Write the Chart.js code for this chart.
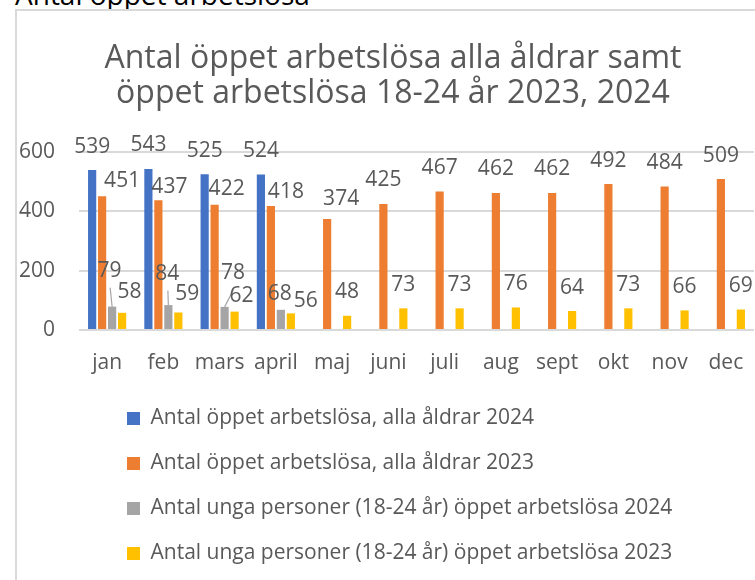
<!DOCTYPE html>
<html lang="sv">
<head>
<meta charset="utf-8">
<script src="https://cdn.jsdelivr.net/npm/chart.js@4"></script>
<style>
  html, body { margin:0; padding:0; width:755px; height:580px; overflow:hidden; background:#fff; }
  #pageHeading { position:absolute; left:15px; top:-20px; font-family:'Open Sans', sans-serif; font-size:28px; line-height:28px; color:#000; white-space:nowrap; }
  #frame { position:absolute; left:15px; top:9px; width:760px; height:600px; border-left:2px solid #d9d9d9; border-top:2px solid #d9d9d9; background:#fff; }
  #chart { position:absolute; left:0; top:0; }
</style>
</head>
<body>
<div id="pageHeading">Antal öppet arbetslösa</div>
<div id="frame"><canvas id="chart" width="752" height="590"></canvas></div>
<script>
// ---- data ----
const months = ['jan','feb','mars','april','maj','juni','juli','aug','sept','okt','nov','dec'];
const allAges2024 = [539, 543, 525, 524, null, null, null, null, null, null, null, null];
const allAges2023 = [451, 437, 422, 418, 374, 425, 467, 462, 462, 492, 484, 509];
const young2024   = [79, 84, 78, 68, null, null, null, null, null, null, null, null];
const young2023   = [58, 59, 62, 56, 48, 73, 73, 76, 64, 73, 66, 69];
const yTickValues = [0, 200, 400, 600];
const seriesNames = [
  'Antal öppet arbetslösa, alla åldrar 2024',
  'Antal öppet arbetslösa, alla åldrar 2023',
  'Antal unga personer (18-24 år) öppet arbetslösa 2024',
  'Antal unga personer (18-24 år) öppet arbetslösa 2023'
];
const chartTitle = ['Antal öppet arbetslösa alla åldrar samt', 'öppet arbetslösa 18-24 år 2023, 2024'];

// ---- styling ----
const FONT = "'Open Sans', sans-serif";
const TEXT = '#595959';
const seriesColors = ['#4472C4', '#ED7D31', '#A5A5A5', '#FFC000'];
// manual label nudges [dx, dy] per series/point (as in the original, where labels were dragged)
const labelNudges = [
  {},
  {0:[20,8.5], 1:[11,10], 2:[12,8], 3:[15,9.5], 4:[14,3]},
  {0:[-2.5,-12], 1:[-1,-7.5], 2:[8.5,-10.5], 3:[-1,7.5]},
  {0:[7.5,3], 1:[9,5], 2:[7,7.5], 3:[15,11]}
];
const leaderLines = {2: [0, 1, 2]};

const dataLabelPlugin = {
  id: 'dataLabels',
  afterDatasetsDraw(chart) {
    const ctx = chart.ctx;
    ctx.save();
    ctx.font = '21px ' + FONT;
    ctx.fillStyle = TEXT;
    ctx.textAlign = 'center';
    ctx.textBaseline = 'alphabetic';
    chart.data.datasets.forEach((ds, di) => {
      const meta = chart.getDatasetMeta(di);
      meta.data.forEach((el, i) => {
        const v = ds.data[i];
        if (v === null || v === undefined) return;
        const n = (labelNudges[di] && labelNudges[di][i]) || [0, 0];
        const cx = el.x + n[0];
        const cy = el.y - 25 + n[1];
        if (leaderLines[di] && leaderLines[di].includes(i)) {
          ctx.save();
          ctx.strokeStyle = '#a6a6a6';
          ctx.lineWidth = 1.2;
          ctx.beginPath();
          ctx.moveTo(cx + 0.5, cy + 18);
          ctx.lineTo(el.x, el.y);
          ctx.stroke();
          ctx.restore();
        }
        ctx.fillText(String(v), cx, cy + 7.5);
      });
    });
    ctx.restore();
  }
};

const legendPlacement = {
  id: 'legendPlacement',
  afterUpdate(chart) {
    const lg = chart.legend;
    if (lg) {
      lg.left = chart.chartArea.left + 24;
      lg.top = chart.chartArea.bottom + 54;
      lg.bottom = lg.top + lg.height;
    }
    // let the y tick labels extend left of the (narrow) axis box without being clipped
    if (chart.scales.y) chart.scales.y.left = 0;
  }
};

const datasets = [allAges2024, allAges2023, young2024, young2023].map((d, i) => ({
  label: seriesNames[i],
  data: d,
  backgroundColor: seriesColors[i],
  borderWidth: 0,
  categoryPercentage: 0.71,
  barPercentage: 0.82
}));

new Chart(document.getElementById('chart'), {
  type: 'bar',
  data: { labels: months, datasets },
  plugins: [dataLabelPlugin, legendPlacement],
  options: {
    responsive: false,
    animation: false,
    layout: { padding: { left: 15, right: 15, top: 0, bottom: 15.8 } },
    plugins: {
      tooltip: { enabled: false },
      title: {
        display: true,
        text: chartTitle,
        color: TEXT,
        font: { family: FONT, size: 32, weight: 'normal', lineHeight: 1.094 },
        padding: { top: 30.5, bottom: 40.5 }
      },
      legend: {
        display: true,
        position: 'bottom',
        align: 'start',
        labels: {
          boxWidth: 13,
          boxHeight: 13,
          padding: 24,
          color: TEXT,
          font: { family: FONT, size: 21 }
        }
      }
    },
    scales: {
      x: {
        grid: { display: false, drawTicks: false },
        border: { display: false },
        ticks: { color: TEXT, font: { family: FONT, size: 21 }, padding: 20, maxRotation: 0, autoSkip: false }
      },
      y: {
        min: 0,
        max: 600,
        afterBuildTicks(scale) { scale.ticks = yTickValues.map(v => ({ value: v })); },
        afterFit(scale) { scale.width = 47; },
        grid: { color: '#d9d9d9', lineWidth: 2, drawTicks: false },
        border: { display: false },
        ticks: { color: TEXT, font: { family: FONT, size: 21 }, padding: 24 }
      }
    }
  }
});
</script>
</body>
</html>
